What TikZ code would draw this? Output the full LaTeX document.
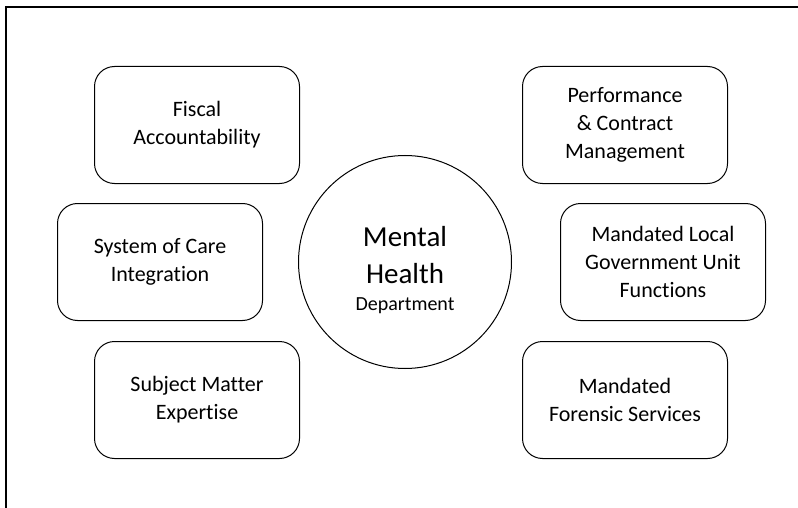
\documentclass[tikz,border=0pt]{standalone}
\usepackage{fontspec}
\setmainfont{Carlito}[Ligatures=NoCommon]
\begin{document}
\begin{tikzpicture}[x=1pt, y=-1pt,
    area/.style={draw, rectangle, rounded corners=20pt, line width=1pt,
        minimum width=205pt, minimum height=117pt, align=center,
        font=\fontsize{22}{28}\selectfont},
    dept/.style={draw, circle, line width=1pt, minimum size=213pt,
        align=center, inner sep=0pt, font=\fontsize{29}{37}\selectfont}]
    % Department surrounded by its functions
    \useasboundingbox (0,0) rectangle (798,508);
    \draw[line width=1.4pt] (6,508) -- (6,7) -- (798,7);

    \node[dept] (mhd) at (405,262) {\rule{0pt}{36pt}Mental\\Health\\[-10pt]
        \fontsize{20}{24}\selectfont Department};

    \node[area] (fiscal) at (197,125) {Fiscal\\Accountability};
    \node[area] (system) at (160,262) {System of Care\\Integration};
    \node[area] (subject) at (197,400) {Subject Matter\\Expertise};

    \node[area] (perform) at (625,125) {Performance\\\& Contract\\Management};
    \node[area] (local) at (663,262) {Mandated Local\\Government Unit\\Functions};
    \node[area] (forensic) at (625,400) {Mandated\\Forensic Services};
\end{tikzpicture}
\end{document}
